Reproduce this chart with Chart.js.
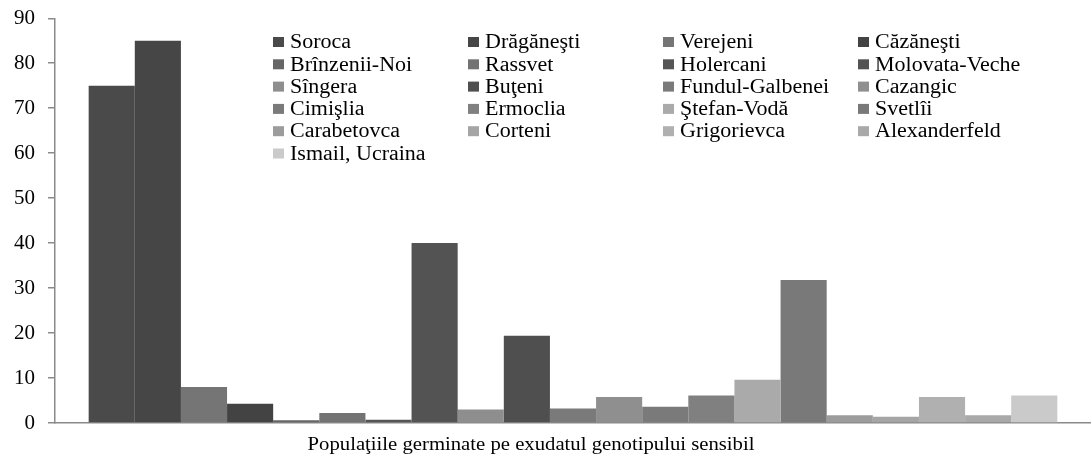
<!DOCTYPE html>
<html>
<head>
<meta charset="utf-8">
<script src="https://cdn.jsdelivr.net/npm/chart.js@4/dist/chart.umd.min.js"></script>
<style>
  html, body { margin: 0; padding: 0; background: #fff; }
  #wrap { width: 1091px; height: 458px; position: relative; }
</style>
</head>
<body>
<div id="wrap"><canvas id="myChart" width="1091" height="458"></canvas></div>
<script>
// populations (legend order, row by row)
const populations = [
  "Soroca", "Drăgăneşti", "Verejeni", "Căzăneşti",
  "Brînzenii-Noi", "Rassvet", "Holercani", "Molovata-Veche",
  "Sîngera", "Buţeni", "Fundul-Galbenei", "Cazangic",
  "Cimişlia", "Ermoclia", "Ştefan-Vodă", "Svetlîi",
  "Carabetovca", "Corteni", "Grigorievca", "Alexanderfeld",
  "Ismail, Ucraina"
];
const values = [
  75, 85, 8, 4.3,
  0.6, 2.2, 0.7, 40,
  3, 19.4, 3.2, 5.8,
  3.6, 6.1, 9.6, 31.8,
  1.7, 1.4, 5.8, 1.7,
  6.1
];
const greys = [
  "#4a4a4a", "#464646", "#757575", "#434343",
  "#666666", "#737373", "#555555", "#535353",
  "#8e8e8e", "#4f4f4f", "#7a7a7a", "#8f8f8f",
  "#7a7a7a", "#808080", "#aaaaaa", "#797979",
  "#9c9c9c", "#a5a5a5", "#b0b0b0", "#a9a9a9",
  "#cacaca"
];
const yTicks = [0, 10, 20, 30, 40, 50, 60, 70, 80, 90];
const xTitle = "Populaţiile germinate pe exudatul genotipului sensibil";

const serif = "'Liberation Serif', 'Times New Roman', serif";

// legend drawn as a 4 column grid, like the original
const gridLegend = {
  id: "gridLegend",
  afterDraw(chart) {
    const ctx = chart.ctx;
    const cols = [273, 468, 663, 858];
    const row0 = 42, rowStep = 22.3;
    ctx.save();
    ctx.font = "20px " + serif;
    ctx.textBaseline = "middle";
    chart.data.datasets.forEach((ds, i) => {
      const x = cols[i % 4];
      const y = row0 + Math.floor(i / 4) * rowStep;
      ctx.fillStyle = ds.backgroundColor;
      ctx.fillRect(x, y - 5, 11, 10);
      ctx.fillStyle = "#000";
      ctx.save();
      ctx.translate(x + 17, y);
      ctx.scale(1.1, 1);
      ctx.fillText(ds.label, 0, 1);
      ctx.restore();
    });
    // x axis title
    ctx.font = "19px " + serif;
    ctx.textAlign = "center";
    ctx.fillStyle = "#000";
    ctx.save();
    ctx.translate(531, 445);
    ctx.scale(1.09, 1);
    ctx.fillText(xTitle, 0, 0);
    ctx.restore();
    ctx.restore();
  }
};

const datasets = populations.map((name, i) => ({
  label: name,
  data: [values[i]],
  backgroundColor: greys[i],
  borderWidth: 0,
  barPercentage: 1,
  categoryPercentage: 0.935
}));

const ctx = document.getElementById("myChart").getContext("2d");
const myChart = new Chart(ctx, {
  type: "bar",
  data: { labels: [""], datasets: datasets },
  options: {
    responsive: false,
    animation: false,
    layout: { padding: { top: 0, right: 0, left: 0, bottom: 0 } },
    plugins: { legend: { display: false }, tooltip: { enabled: false } },
    scales: {
      x: {
        grid: { display: false },
        border: { display: true, color: "#8a8a8a", width: 1.5 },
        ticks: { display: false },
        afterFit(scale) { scale.height = 35; }
      },
      y: {
        min: 0,
        max: 90,
        afterBuildTicks(scale) { scale.ticks = yTicks.map(v => ({ value: v })); },
        grid: { drawOnChartArea: false, drawTicks: true, tickLength: 7, color: "#8a8a8a", lineWidth: 1.5 },
        border: { display: true, color: "#8a8a8a", width: 1.5 },
        ticks: { color: "#000", padding: 13, font: { family: serif, size: 21, lineHeight: 0.5 } },
        afterFit(scale) { scale.width = 55; }
      }
    }
  },
  plugins: [gridLegend]
});
</script>
</body>
</html>
